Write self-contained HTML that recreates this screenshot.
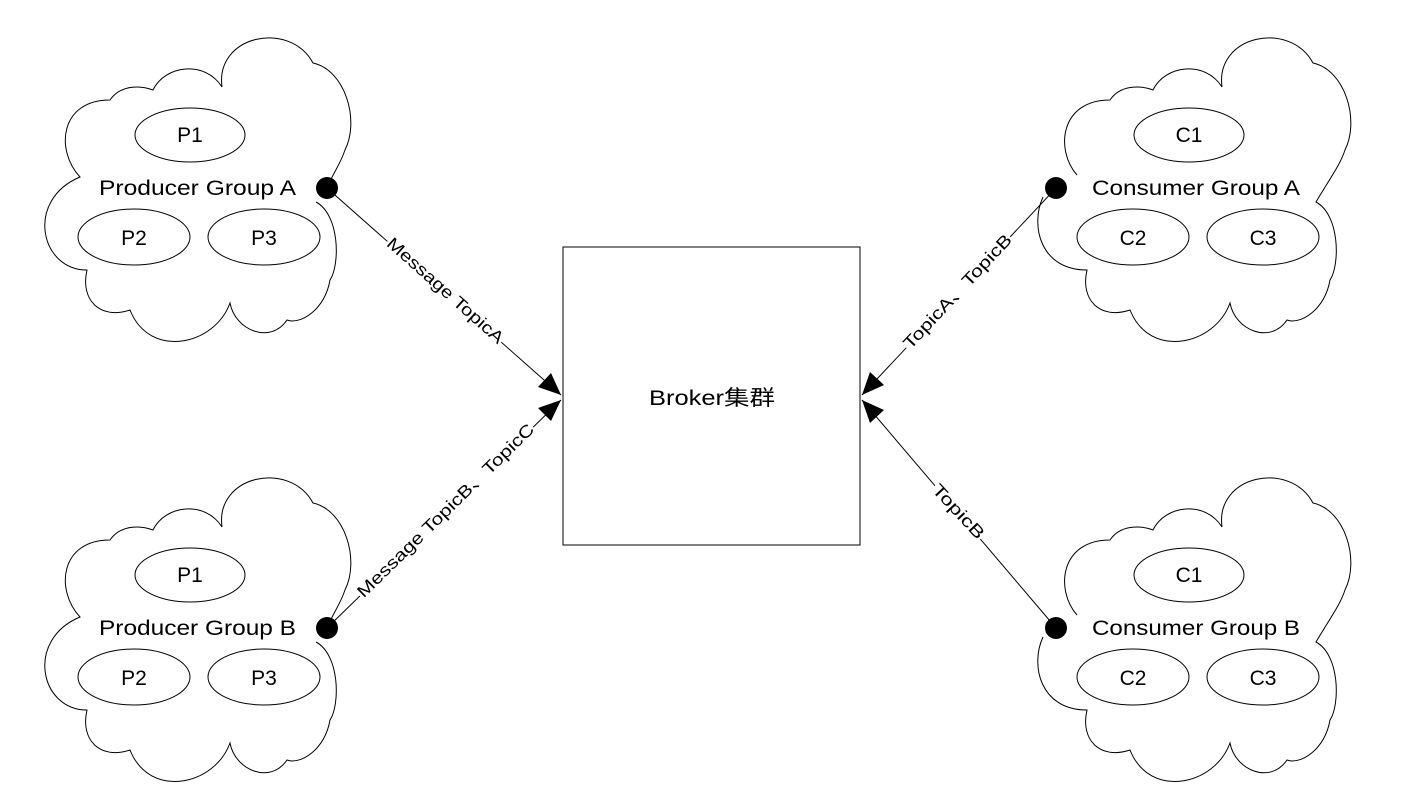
<!DOCTYPE html>
<html><head><meta charset="utf-8"><style>body{margin:0;background:#fff}svg{display:block}text{font-family:"Liberation Sans","Noto Sans CJK SC",sans-serif;fill:#000}</style></head>
<body>
<svg width="1405" height="797" viewBox="0 0 1405 797" xmlns="http://www.w3.org/2000/svg">
<defs>
<g id="cloud">
<path d="M222,87 C215,35 290,20 313,63 C345,70 360,120 345,150 C340,165 332,175 327,188 M316,202 C340,215 340,265 330,280 C325,310 300,325 287,320 C270,345 235,330 230,303 C215,345 150,360 130,310 C100,320 80,300 87,270 C40,270 25,200 80,177 C55,150 60,100 110,100 C120,85 140,85 153,90 C165,65 205,60 222,87" fill="none" stroke="#000" stroke-width="1"/>
</g>
<g id="cloud2">
<path d="M222,87 C215,35 290,20 313,63 C345,70 360,120 345,150 C340,165 332,175 316,202 C340,215 340,265 330,280 C325,310 300,325 287,320 C270,345 235,330 230,303 C215,345 150,360 130,310 C100,320 80,300 87,270 C40,270 30,225 43,197 M77,175 C55,150 60,100 110,100 C120,85 140,85 153,90 C165,65 205,60 222,87" fill="none" stroke="#000" stroke-width="1"/>
</g>
</defs>
<g fill="none" stroke="#000" stroke-width="1">
<line x1="327" y1="188" x2="561" y2="395"/>
<line x1="327" y1="628" x2="561" y2="400"/>
<line x1="1056" y1="188" x2="862" y2="395"/>
<line x1="1056" y1="628" x2="862" y2="400"/>
</g>
<g fill="#000">
<path d="M561,395 L538,387 L551,373 Z"/>
<path d="M561,400 L551,421 L538,408 Z"/>
<path d="M862,395 L870,372 L884,385 Z"/>
<path d="M862,400 L884,410 L870,423 Z"/>
</g>
<rect x="563" y="247" width="297" height="298" fill="#fff" stroke="#000"/>
<text x="649" y="405" font-size="21" textLength="126" lengthAdjust="spacingAndGlyphs">Broker集群</text>

<g>
<use href="#cloud"/>
<g fill="none" stroke="#000"><ellipse cx="190" cy="135" rx="55" ry="27"/><ellipse cx="134" cy="237" rx="56" ry="28"/><ellipse cx="264" cy="237" rx="56" ry="28"/></g>
<text x="190" y="142" font-size="21" text-anchor="middle">P1</text>
<text x="134" y="245" font-size="21" text-anchor="middle">P2</text>
<text x="264" y="245" font-size="21" text-anchor="middle">P3</text>
<text x="99" y="195" font-size="21" textLength="197" lengthAdjust="spacingAndGlyphs">Producer Group A</text>
<circle cx="327" cy="188" r="11" fill="#000"/>
</g>
<g transform="translate(0,440)">
<use href="#cloud"/>
<g fill="none" stroke="#000"><ellipse cx="190" cy="135" rx="55" ry="27"/><ellipse cx="134" cy="237" rx="56" ry="28"/><ellipse cx="264" cy="237" rx="56" ry="28"/></g>
<text x="190" y="142" font-size="21" text-anchor="middle">P1</text>
<text x="134" y="245" font-size="21" text-anchor="middle">P2</text>
<text x="264" y="245" font-size="21" text-anchor="middle">P3</text>
<text x="99" y="195" font-size="21" textLength="197" lengthAdjust="spacingAndGlyphs">Producer Group B</text>
<circle cx="327" cy="188" r="11" fill="#000"/>
</g>
<g transform="translate(1000,0)">
<use href="#cloud2"/>
<g fill="none" stroke="#000"><ellipse cx="189" cy="135" rx="55" ry="27"/><ellipse cx="133" cy="237" rx="56" ry="28"/><ellipse cx="263" cy="237" rx="56" ry="28"/></g>
<text x="189" y="142" font-size="21" text-anchor="middle">C1</text>
<text x="133" y="245" font-size="21" text-anchor="middle">C2</text>
<text x="263" y="245" font-size="21" text-anchor="middle">C3</text>
<text x="92" y="195" font-size="21" textLength="208" lengthAdjust="spacingAndGlyphs">Consumer Group A</text>
<circle cx="56" cy="188" r="11" fill="#000"/>
</g>
<g transform="translate(1000,440)">
<use href="#cloud2"/>
<g fill="none" stroke="#000"><ellipse cx="189" cy="135" rx="55" ry="27"/><ellipse cx="133" cy="237" rx="56" ry="28"/><ellipse cx="263" cy="237" rx="56" ry="28"/></g>
<text x="189" y="142" font-size="21" text-anchor="middle">C1</text>
<text x="133" y="245" font-size="21" text-anchor="middle">C2</text>
<text x="263" y="245" font-size="21" text-anchor="middle">C3</text>
<text x="92" y="195" font-size="21" textLength="208" lengthAdjust="spacingAndGlyphs">Consumer Group B</text>
<circle cx="56" cy="188" r="11" fill="#000"/>
</g>

<g font-size="17">
<g transform="translate(445,291) rotate(41.6)"><rect x="-76" y="-11" width="152" height="20" fill="#fff"/><text x="-75" y="5" textLength="150" lengthAdjust="spacingAndGlyphs">Message TopicA</text></g>
<g transform="translate(446,511) rotate(-44.4)"><rect x="-121" y="-11" width="242" height="20" fill="#fff"/><text x="-120" y="5" textLength="240" lengthAdjust="spacingAndGlyphs">Message TopicB、TopicC</text></g>
<g transform="translate(958,292) rotate(-46.9)"><rect x="-76" y="-11" width="152" height="20" fill="#fff"/><text x="-75" y="5" textLength="150" lengthAdjust="spacingAndGlyphs">TopicA、TopicB</text></g>
<g transform="translate(958,512) rotate(47)"><rect x="-35" y="-11" width="70" height="20" fill="#fff"/><text x="-34" y="5" textLength="68" lengthAdjust="spacingAndGlyphs">TopicB</text></g>
</g>
</svg>
</body></html>
